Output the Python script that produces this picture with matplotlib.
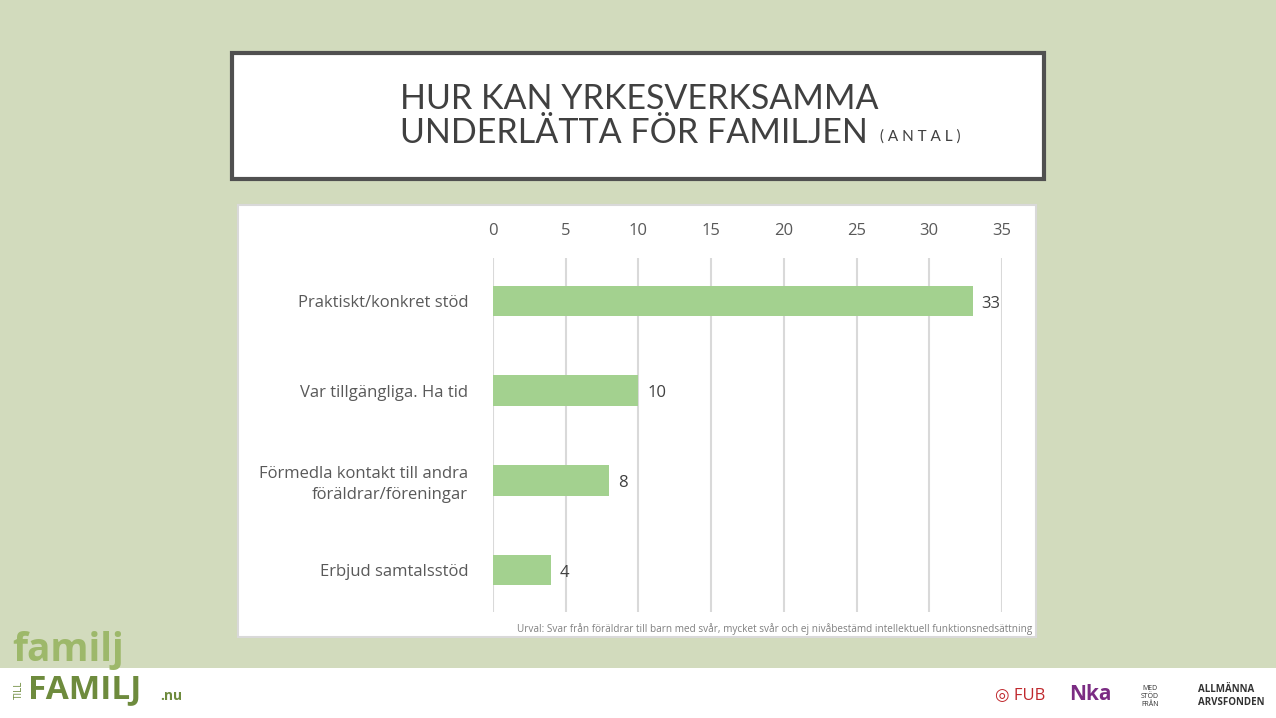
import matplotlib
matplotlib.use("Agg")
import matplotlib.pyplot as plt
from matplotlib.patches import Rectangle

categories = ["Praktiskt/konkret stöd", "Var tillgängliga. Ha tid",
              "Förmedla kontakt till andra\nföräldrar/föreningar", "Erbjud samtalsstöd"]
values = [33, 10, 8, 4]
ticks = [0, 5, 10, 15, 20, 25, 30, 35]

W, H = 1276, 718
plt.rcParams["font.family"] = ["Open Sans", "DejaVu Sans"]
fig = plt.figure(figsize=(W / 100, H / 100), dpi=100)
fig.patch.set_facecolor("#D2DBBD")

def px(x0, y0, x1, y1):
    return [x0 / W, 1 - y1 / H, (x1 - x0) / W, (y1 - y0) / H]

# white bottom strip
fig.patches.append(Rectangle((0, 0), 1, 1 - 668 / H, transform=fig.transFigure,
                             facecolor="white", edgecolor="none", zorder=0))
# title box
b = px(232, 53, 1044, 179)
fig.patches.append(Rectangle((b[0], b[1]), b[2], b[3], transform=fig.transFigure,
                             facecolor="white", edgecolor="#505050", linewidth=3, zorder=1))
fig.text(400 / W, 1 - 99 / H, "HUR KAN YRKESVERKSAMMA", fontsize=24.5, color="#404040",
         va="center", family=["Lato", "DejaVu Sans"])
fig.text(400 / W, 1 - 133 / H, "UNDERLÄTTA FÖR FAMILJEN", fontsize=24.5, color="#404040",
         va="center", family=["Lato", "DejaVu Sans"])
fig.text(880 / W, 1 - 137 / H, "( A N T A L )", fontsize=11, color="#404040", va="center",
         family=["Lato", "DejaVu Sans"])
# chart panel
b = px(238, 205, 1036, 637)
fig.patches.append(Rectangle((b[0], b[1]), b[2], b[3], transform=fig.transFigure,
                             facecolor="white", edgecolor="#D9D9D9", linewidth=1.5, zorder=1))

ax = fig.add_axes(px(493, 258, 1002, 612))
ax.set_facecolor("none")
ax.set_zorder(2)
y = list(range(len(categories)))
ax.barh(y, values, height=0.34, color="#A3D18F", zorder=3)
for yi, v in zip(y, values):
    ax.text(v + 0.6, yi + 0.03, str(v), va="center", ha="left", fontsize=12, color="#404040")
ax.set_xlim(0, 35)
ax.set_ylim(3 + 42 / 90, -43 / 90)
ax.set_xticks(ticks)
ax.xaxis.tick_top()
ax.tick_params(axis="x", length=0, pad=14, labelsize=12, labelcolor="#595959")
ax.set_yticks(y)
ax.set_yticklabels(categories, fontsize=12, color="#595959", linespacing=1.4)
ax.tick_params(axis="y", length=0, pad=18)
ax.grid(axis="x", color="#D9D9D9", linewidth=1.5, zorder=0)
for s in ax.spines.values():
    s.set_visible(False)

fig.text(1032 / W, 1 - 629 / H,
         "Urval: Svar från föräldrar till barn med svår, mycket svår och ej nivåbestämd intellektuell funktionsnedsättning",
         fontsize=7.2, color="#808080", ha="right", va="center")

# logos (approximated as text)
fig.text(12 / W, 1 - 650 / H, "familj", fontsize=28, color="#9DB86A", fontweight="bold", va="center")
fig.text(14 / W, 1 - 690 / H, "TILL", fontsize=7, color="#6E8B3D", rotation=90, va="center")
fig.text(28 / W, 1 - 690 / H, "FAMILJ", fontsize=24, color="#6E8B3D", fontweight="bold", va="center")
fig.text(160 / W, 1 - 696 / H, ".nu", fontsize=10, color="#6E8B3D", fontweight="bold", va="center")
fig.text(1020 / W, 1 - 696 / H, "◎ FUB", fontsize=12, color="#C0282D", va="center", ha="center")
fig.text(1090 / W, 1 - 695 / H, "Nka", fontsize=15, color="#7B2C83", fontweight="bold", va="center", ha="center")
fig.text(1150 / W, 1 - 696 / H, "MED\nSTÖD\nFRÅN", fontsize=5, color="#333333", va="center", ha="center")
fig.text(1198 / W, 1 - 696 / H, "ALLMÄNNA\nARVSFONDEN", fontsize=7, color="#333333",
         va="center", ha="left", fontweight="bold")

fig.savefig("out.png", dpi=100, facecolor=fig.get_facecolor())
